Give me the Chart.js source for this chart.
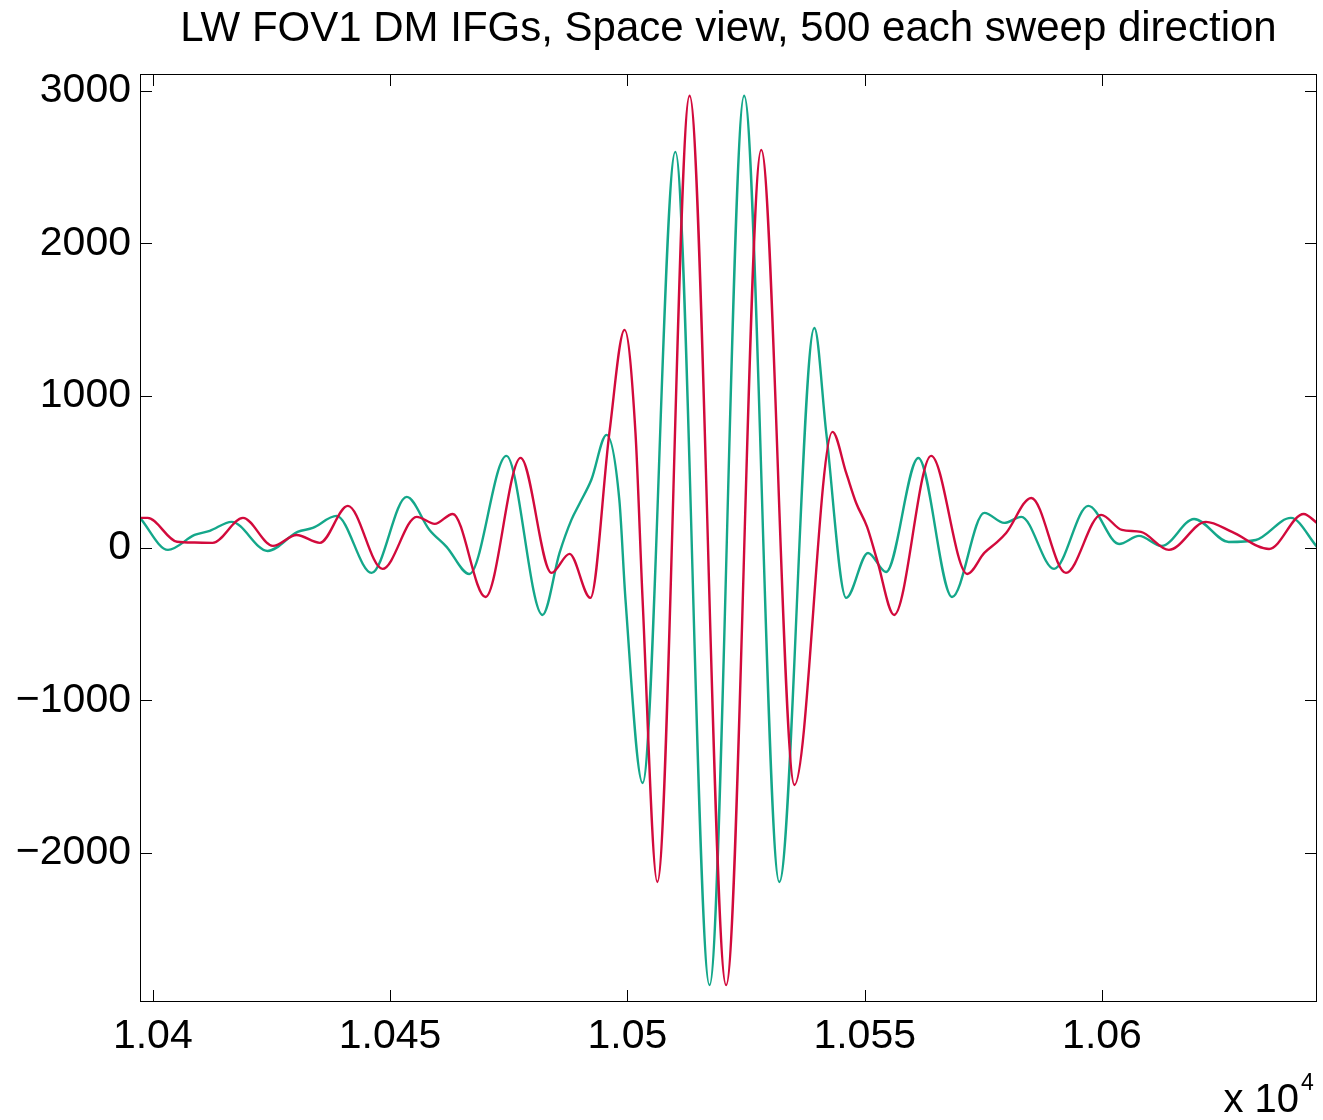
<!DOCTYPE html>
<html>
<head>
<meta charset="utf-8">
<script src="https://cdn.jsdelivr.net/npm/chart.js@4/dist/chart.umd.min.js"></script>
<style>
  html, body { margin: 0; padding: 0; background: #fff; }
  #wrap { width: 1323px; height: 1120px; position: relative; }
</style>
</head>
<body>
<div id="wrap"><canvas id="c" width="1323" height="1120"></canvas></div>
<script>
const chartTitle = 'LW FOV1 DM IFGs, Space view, 500 each sweep direction';
const xTickValues = [10400, 10450, 10500, 10550, 10600];
const yTickValues = [-2000, -1000, 0, 1000, 2000, 3000];

const redX = [10397.3, 10398.9, 10405.1, 10408.8, 10412.6, 10419.0, 10425.3, 10430.3, 10435.2, 10441.1,
  10448.4, 10455.6, 10459.4, 10463.2, 10470.1, 10477.5, 10484.0, 10487.8, 10492.2, 10496.2,
  10499.4, 10501.7, 10503.2, 10506.3, 10513.1, 10520.8, 10528.2, 10535.2, 10543.2, 10546.1,
  10548.2, 10550.5, 10552.6, 10556.2, 10564.0, 10571.6, 10575.2, 10577.7, 10579.8, 10585.1,
  10592.4, 10599.8, 10604.2, 10608.2, 10614.1, 10621.9, 10627.4, 10635.2, 10642.5, 10645.3];
const redY = [197, 197, 40, 35, 33, 197, 13, 85, 33, 276,
  -138, 204, 158, 223, -322, 591, -164, -39, -328, 755,
  1431, 755, -341, -2193, 2968, -2870, 2613, -1556, 762, 492,
  295, 138, -79, -440, 604, -171, -33, 33, 98, 328,
  -164, 217, 118, 105, -13, 171, 105, -7, 223, 164];

const greenX = [10397.3, 10403.2, 10408.8, 10412.0, 10416.6, 10424.2, 10430.5, 10433.7, 10438.7, 10446.1,
  10453.5, 10458.3, 10461.9, 10466.7, 10474.5, 10482.1, 10485.7, 10488.2, 10489.9, 10492.4,
  10495.6, 10498.3, 10499.6, 10503.2, 10510.1, 10517.3, 10524.6, 10532.0, 10539.4, 10541.9,
  10546.1, 10550.7, 10554.5, 10561.3, 10568.4, 10575.2, 10579.4, 10583.0, 10589.9, 10597.1,
  10603.6, 10607.8, 10612.6, 10619.4, 10626.7, 10632.4, 10639.8, 10645.3];
const greenY = [197, -13, 85, 112, 171, -20, 105, 131, 210, -164,
  335, 118, 7, -171, 604, -440, -33, 184, 290, 447,
  742, 315, -341, -1543, 2600, -2870, 2968, -2193, 1444, 755,
  -328, -33, -158, 590, -322, 230, 164, 204, -138, 276,
  26, 79, 13, 190, 39, 52, 197, 7];

const xMin = 10397.3, xMax = 10645.3, yMin = -2981, yMax = 3111;

const toPoints = (xs, ys) => xs.map((x, i) => ({ x: x, y: ys[i] }));

const FONT = '"Liberation Sans", Arial, Helvetica, sans-serif';

const framePlugin = {
  id: 'frame',
  afterDatasetsDraw(chart) {
    const { ctx, chartArea: a, scales: { x, y } } = chart;
    ctx.save();
    ctx.strokeStyle = '#000';
    ctx.lineWidth = 1;
    ctx.strokeRect(Math.round(a.left) + 0.5, Math.round(a.top) + 0.5,
                   Math.round(a.width) - 1, Math.round(a.height) - 1);
    ctx.beginPath();
    const L = 12;
    x.ticks.forEach(t => {
      const px = Math.round(x.getPixelForValue(t.value)) + 0.5;
      ctx.moveTo(px, a.bottom); ctx.lineTo(px, a.bottom - L);
      ctx.moveTo(px, a.top); ctx.lineTo(px, a.top + L);
    });
    y.ticks.forEach(t => {
      const py = Math.round(y.getPixelForValue(t.value)) + 0.5;
      ctx.moveTo(a.left, py); ctx.lineTo(a.left + L, py);
      ctx.moveTo(a.right, py); ctx.lineTo(a.right - L, py);
    });
    ctx.stroke();
    ctx.fillStyle = '#000';
    ctx.textBaseline = 'alphabetic';
    ctx.font = '40px ' + FONT;
    ctx.textAlign = 'right';
    ctx.fillText('x 10', 1299, 1112);
    ctx.font = '23px ' + FONT;
    ctx.textAlign = 'left';
    ctx.fillText('4', 1301, 1090);
    ctx.restore();
  }
};

new Chart(document.getElementById('c'), {
  type: 'line',
  data: {
    datasets: [
      { label: 'forward', data: toPoints(redX, redY), borderColor: '#d20a3c', borderWidth: 2.4,
        pointRadius: 0, cubicInterpolationMode: 'monotone', fill: false },
      { label: 'reverse', data: toPoints(greenX, greenY), borderColor: '#14a78a', borderWidth: 2.4,
        pointRadius: 0, cubicInterpolationMode: 'monotone', fill: false }
    ]
  },
  options: {
    responsive: false,
    animation: false,
    layout: { padding: { left: 0, right: 6, top: 0, bottom: 0 } },
    plugins: {
      legend: { display: false },
      tooltip: { enabled: false },
      title: {
        display: true, text: chartTitle, color: '#000', fullSize: false,
        font: { family: FONT, size: 42, weight: 'normal', lineHeight: 1.2 },
        padding: { top: 4, bottom: 19.6 }
      }
    },
    scales: {
      x: {
        type: 'linear', min: xMin, max: xMax,
        grid: { display: false, drawTicks: false },
        border: { display: false },
        afterBuildTicks: s => { s.ticks = xTickValues.map(v => ({ value: v })); },
        afterFit: s => { s.height = 118; },
        ticks: {
          color: '#000', padding: 10, maxRotation: 0, autoSkip: false,
          font: { family: FONT, size: 41 },
          callback: v => String(Math.round(v / 10000 * 100000) / 100000)
        }
      },
      y: {
        type: 'linear', min: yMin, max: yMax,
        grid: { display: false, drawTicks: false },
        border: { display: false },
        afterBuildTicks: s => { s.ticks = yTickValues.map(v => ({ value: v })); },
        afterFit: s => { s.width = 140; },
        ticks: {
          color: '#000', padding: 9, autoSkip: false,
          font: { family: FONT, size: 41 },
          callback: v => (v < 0 ? '\u2212' + Math.abs(v) : String(v))
        }
      }
    }
  },
  plugins: [framePlugin]
});
</script>
</body>
</html>
